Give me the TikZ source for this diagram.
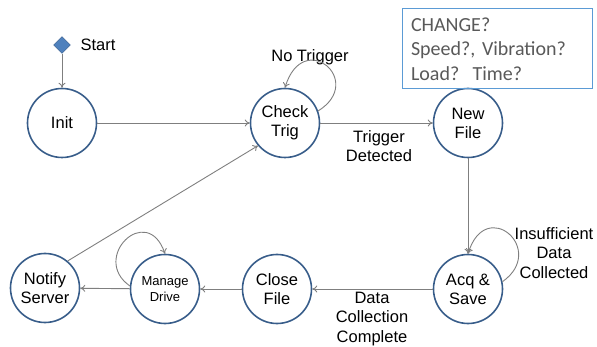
\documentclass[tikz,border=0pt]{standalone}
\usepackage{fontspec}
\setmainfont{Liberation Sans}
\newfontfamily\boxfont{Carlito}
\usetikzlibrary{shapes.geometric,arrows.meta}

\definecolor{ringblue}{HTML}{385D8A}
\definecolor{diafill}{HTML}{4F81BD}
\definecolor{boxblue}{HTML}{5B9BD5}
\definecolor{linegray}{HTML}{7F7F7F}
\definecolor{txtgray}{HTML}{595959}

\tikzset{
  statering/.style={circle,draw=ringblue,line width=1.6pt,minimum size=69pt,
    inner sep=0pt,align=center,font=\fontsize{16.5}{19}\selectfont},
  flow/.style={draw=linegray,line width=0.9pt,-{To[length=5pt,width=7pt]}},
  lbl/.style={align=center,font=\fontsize{16.5}{19.5}\selectfont}
}

\begin{document}
\begin{tikzpicture}[x=1pt,y=-1pt]
        \useasboundingbox (0,0) rectangle (597,347);

        \node[diamond,draw=ringblue,fill=diafill,minimum size=17pt,inner sep=0pt] (start) at (62,45) {};
        \node[lbl,anchor=west] (startlbl) at (77,45) {Start};

        \begin{scope}[every node/.style={statering}]
          \node (init)   at (62,123)  {Init};
          \node (check)  at (285,123) {Check\\Trig};
          \node (newf)   at (468,123) {New\\File};
          \node (acq)    at (468,289) {Acq \&\\Save};
          \node (closef) at (277,289) {Close\\File};
          \node[font=\fontsize{13}{15.5}\selectfont] (manage) at (165,289) {Manage\\Drive};
          \node (notify) at (45,288)  {Notify\\Server};
        \end{scope}

        \node[draw=boxblue,line width=1pt,minimum height=80pt,
          text width=172pt,inner xsep=9pt,align=left,text=txtgray,
          font=\boxfont\fontsize{20}{24.5}\selectfont] (change) at (497,49)
          {CHANGE?\\Speed?, Vibration?\\Load?\ \ Time?};

        \node[lbl] (nolbl)   at (310,57)  {No Trigger};
        \node[lbl] (triglbl) at (379,146) {Trigger\\Detected};
        \node[lbl] (insuf)   at (554,253) {Insufficient\\Data\\Collected};
        \node[lbl] (donelbl) at (372,319) {Data\\Collection\\Complete};

        \begin{scope}[every edge/.style={flow}]
          \path (start)  edge (init);
          \path (init)   edge (check);
          \path (check)  edge (newf);
          \path (newf)   edge (acq);
          \path (acq)    edge (closef);
          \path (closef) edge (manage);
          \path (manage) edge (notify);
          \path (notify.50) edge (check.220);
        \end{scope}

        % self loops
        \draw[flow] (check.20) .. controls +(48,-30) and +(18,-60) .. (check.north);
        \draw[flow] (acq.12) .. controls +(45,-32) and +(18,-58) .. (acq.north);
        \draw[flow] (manage.175) .. controls +(-40,-28) and +(-18,-52) .. (manage.north);

      \end{tikzpicture}
\end{document}
